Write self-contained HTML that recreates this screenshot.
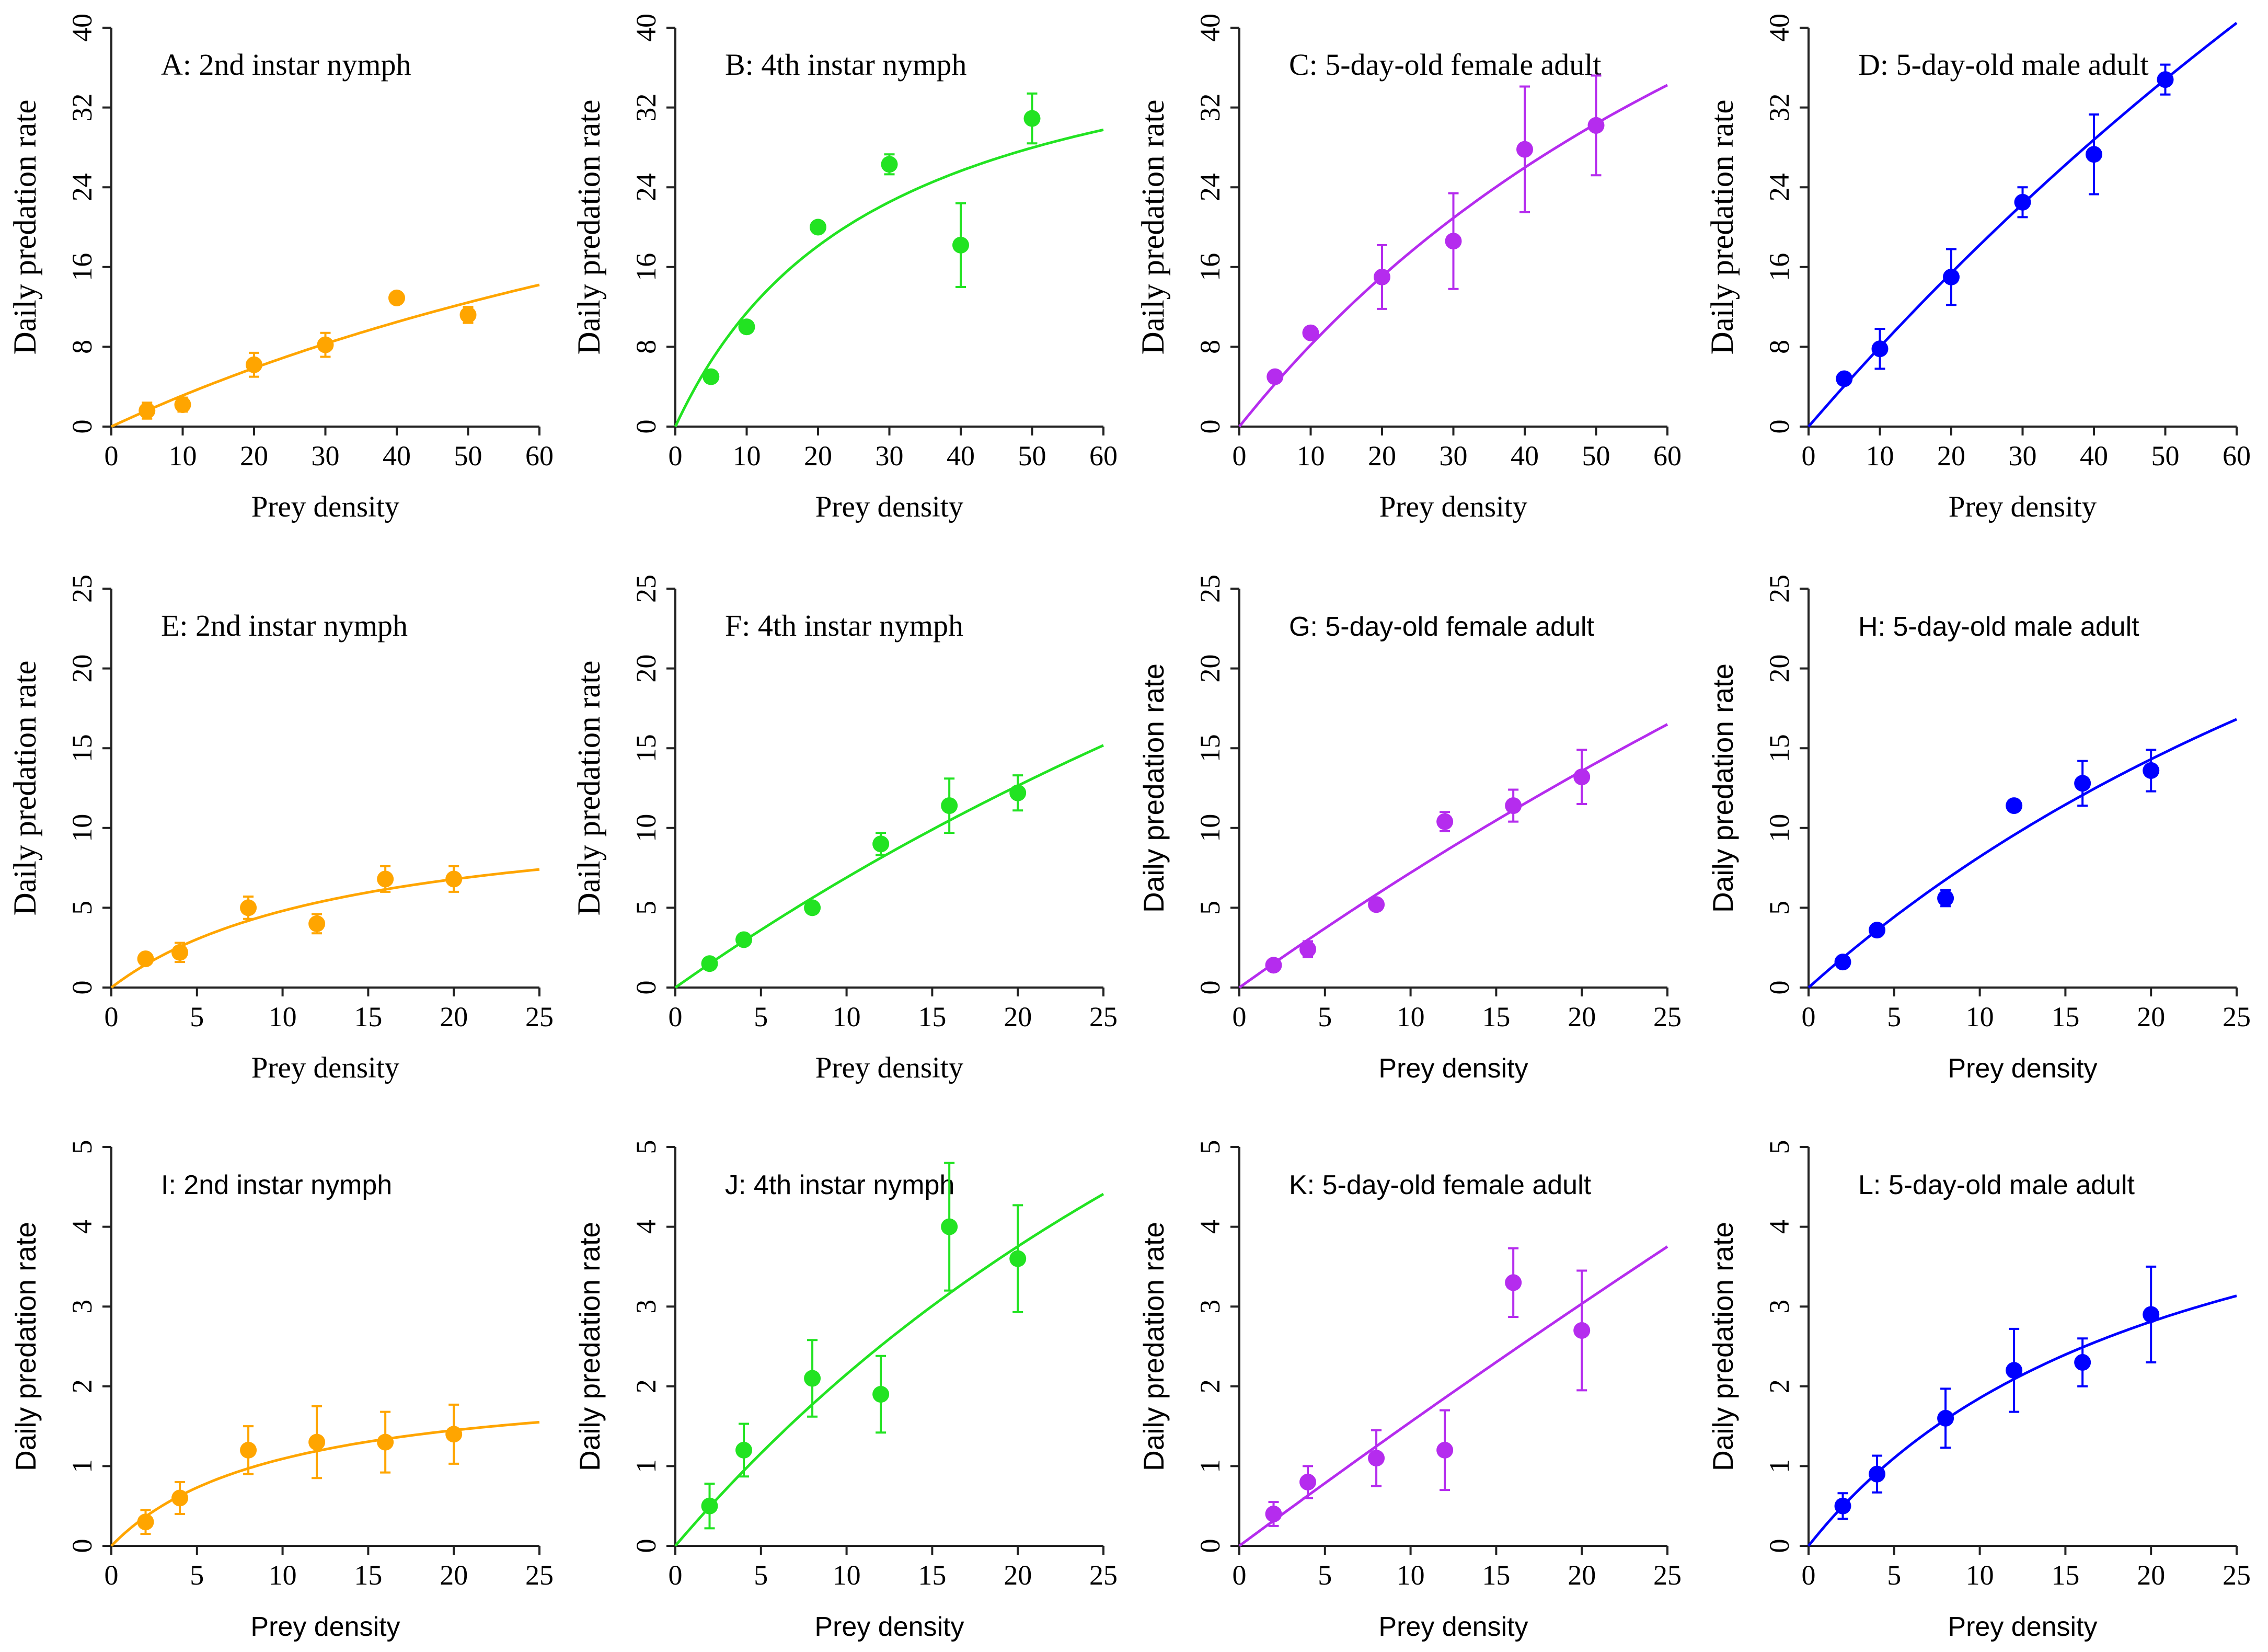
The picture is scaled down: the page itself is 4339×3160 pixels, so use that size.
<!DOCTYPE html>
<html><head><meta charset="utf-8"><style>
html,body{margin:0;padding:0;background:#fff;}
svg{display:block;}
.serif{font-family:"Liberation Serif",serif;}
.sans{font-family:"Liberation Sans",sans-serif;}
</style></head><body>
<svg id="fig" width="4339" height="3160" viewBox="0 0 4339 3160" xmlns="http://www.w3.org/2000/svg"></svg>
<script>
// ---- data ----
const panelIds = ["A","B","C","D","E","F","G","H","I","J","K","L"];
const panelTitles = ["A: 2nd instar nymph","B: 4th instar nymph","C: 5-day-old female adult","D: 5-day-old male adult",
 "E: 2nd instar nymph","F: 4th instar nymph","G: 5-day-old female adult","H: 5-day-old male adult",
 "I: 2nd instar nymph","J: 4th instar nymph","K: 5-day-old female adult","L: 5-day-old male adult"];
const densityRow1 = [5,10,20,30,40,50];
const densityRow23 = [2,4,8,12,16,20];
const xTicksRow1 = [0,10,20,30,40,50,60];
const xTicksRow23 = [0,5,10,15,20,25];
const yTicksRow1 = [0,8,16,24,32,40];
const yTicksRow2 = [0,5,10,15,20,25];
const yTicksRow3 = [0,1,2,3,4,5];
const meanA = [1.6,2.2,6.2,8.2,12.9,11.2];   const errA = [0.8,0.7,1.2,1.2,0.5,0.8];
const meanB = [5,10,20,26.3,18.2,30.9];      const errB = [0,0,0,1.0,4.2,2.5];
const meanC = [5,9.4,15,18.6,27.8,30.2];     const errC = [0,0.4,3.2,4.8,6.3,5.0];
const meanD = [4.8,7.8,15,22.5,27.3,34.8];   const errD = [0,2.0,2.8,1.5,4.0,1.5];
const meanE = [1.8,2.2,5.0,4.0,6.8,6.8];     const errE = [0,0.6,0.7,0.6,0.8,0.8];
const meanF = [1.5,3.0,5.0,9.0,11.4,12.2];   const errF = [0,0,0.3,0.7,1.7,1.1];
const meanG = [1.4,2.4,5.2,10.4,11.4,13.2];  const errG = [0,0.5,0,0.6,1.0,1.7];
const meanH = [1.6,3.6,5.6,11.4,12.8,13.6];  const errH = [0,0.3,0.5,0,1.4,1.3];
const meanI = [0.3,0.6,1.2,1.3,1.3,1.4];     const errI = [0.15,0.2,0.3,0.45,0.38,0.37];
const meanJ = [0.5,1.2,2.1,1.9,4.0,3.6];     const errJ = [0.28,0.33,0.48,0.48,0.8,0.67];
const meanK = [0.4,0.8,1.1,1.2,3.3,2.7];     const errK = [0.15,0.2,0.35,0.5,0.43,0.75];
const meanL = [0.5,0.9,1.6,2.2,2.3,2.9];     const errL = [0.16,0.23,0.37,0.52,0.3,0.6];
// Holling type II parameters: attack rate a, handling time h
const attackRate = [0.333,1.543,0.896,0.829,0.82,0.758,0.766,0.96,0.221,0.252,0.159,0.272];
const handlingTime = [0.0203,0.0228,0.0106,0.0046,0.0863,0.0131,0.0084,0.0178,0.464,0.068,0.015,0.172];
// ---- layout ----
const means=[meanA,meanB,meanC,meanD,meanE,meanF,meanG,meanH,meanI,meanJ,meanK,meanL];
const errs=[errA,errB,errC,errD,errE,errF,errG,errH,errI,errJ,errK,errL];
const colors=["#FFA500","#22E322","#B52CEE","#0000FF"];
const colLeft=[213,1292,2371,3460];
const rowTop=[53,1126,2194];
const AXW=819, AXH=763;
const svg=document.getElementById('fig');
const NS="http://www.w3.org/2000/svg";
function mk(tag,attrs,parent){const e=document.createElementNS(NS,tag);for(const k in attrs)e.setAttribute(k,attrs[k]);(parent||svg).appendChild(e);return e;}

panelIds.forEach((id,i)=>{
  const r=Math.floor(i/4), c=i%4;
  const x0=colLeft[c], yb=rowTop[r]+AXH, yt=rowTop[r];
  const xmax= r===0?60:25;
  const xt= r===0?xTicksRow1:xTicksRow23;
  const yt_= r===0?yTicksRow1:(r===1?yTicksRow2:yTicksRow3);
  const ymax=yt_[yt_.length-1];
  const dens= r===0?densityRow1:densityRow23;
  const sx=v=>x0+v/xmax*AXW, sy=v=>yb-v/ymax*AXH;
  const col=colors[c];
  const lblSans = (r===2)||(r===1&&c>=2);
  const g=mk('g',{});
  
  
  const ax=mk('path',{d:`M${sx(0)},${yb}H${sx(xmax)}M${x0},${yb}V${yt}`,stroke:'#222',fill:'none','stroke-width':4},g);
  
  
  xt.forEach(v=>{
    mk('line',{x1:sx(v),x2:sx(v),y1:yb,y2:yb+17,stroke:'#222','stroke-width':4},g);
    const t=mk('text',{x:sx(v),y:yb+74,'text-anchor':'middle','font-size':54,class:'serif'},g);
    t.textContent=v;
    
    
  });
  yt_.forEach(v=>{
    mk('line',{x1:x0,x2:x0-17,y1:sy(v),y2:sy(v),stroke:'#222','stroke-width':4},g);
    const t=mk('text',{x:0,y:0,'text-anchor':'middle','font-size':54,class:'serif',transform:`translate(${x0-38},${sy(v)}) rotate(-90)`},g);
    t.textContent=v;
    
    
  });
  const xl=mk('text',{x:x0+AXW/2,y:yb+172,'text-anchor':'middle','font-size':lblSans?52:57,class:lblSans?'sans':'serif'},g);
  xl.textContent='Prey density';
  
  
  const yl=mk('text',{x:0,y:0,'text-anchor':'middle','font-size':lblSans?55:61,class:lblSans?'sans':'serif',transform:`translate(${x0-145},${yt+AXH/2}) rotate(-90)`},g);
  yl.textContent='Daily predation rate';
  
  
  const ti=mk('text',{x:x0+95,y:yt+90,'font-size':lblSans?52:58,class:lblSans?'sans':'serif'},g);
  ti.textContent=panelTitles[i];
  
  
  const a=attackRate[i], h=handlingTime[i];
  let d='';
  for(let k=0;k<=100;k++){const N=xmax*k/100;const f=a*N/(1+a*h*N);d+=(k?'L':'M')+sx(N).toFixed(1)+','+sy(f).toFixed(1);}
  const cv=mk('path',{d:d,stroke:col,fill:'none','stroke-width':5},g);
  
  
  dens.forEach((N,j)=>{
    const m=means[i][j], e=errs[i][j];
    if(e>0){
      const eb=mk('path',{d:`M${sx(N)},${sy(m-e)}V${sy(m+e)}M${sx(N)-10},${sy(m-e)}h20M${sx(N)-10},${sy(m+e)}h20`,stroke:col,fill:'none','stroke-width':4},g);
      
      
    }
    const p=mk('circle',{cx:sx(N),cy:sy(m),r:16,fill:col},g);
    
    
  });
});
</script>
</body></html>
